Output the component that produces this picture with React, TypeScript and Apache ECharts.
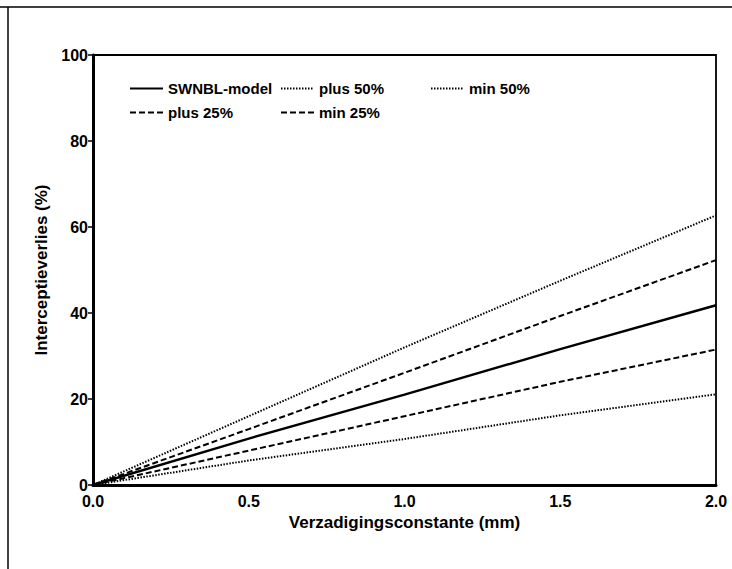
import React, { useEffect, useRef } from "react";
import * as echarts from "echarts";

const xValues = [0, 0.5, 1.0, 1.5, 2.0];
const swnbl = [0, 10.8, 21.0, 31.6, 41.8];
const plus50 = [0, 16.0, 32.0, 47.5, 62.7];
const min50 = [0, 5.7, 10.7, 16.2, 21.1];
const plus25 = [0, 13.0, 26.1, 39.3, 52.3];
const min25 = [0, 8.0, 16.0, 24.0, 31.5];
const xTicks = ["0.0", "0.5", "1.0", "1.5", "2.0"];
const yTicks = [0, 20, 40, 60, 80, 100];

const FONT = "'Liberation Sans', Arial, sans-serif";

function pairs(v: number[]) {
  return xValues.map((x, i) => [x, v[i]]);
}

export default function App() {
  const ref = useRef<HTMLDivElement>(null);
  useEffect(() => {
    if (!ref.current) return;
    const chart = echarts.init(ref.current, null, { renderer: "svg" });
    const mkSeries = (name: string, data: number[], type: any, width: number) => ({
      name,
      type: "line",
      data: pairs(data),
      symbol: "none",
      lineStyle: { color: "#000", width, type },
      itemStyle: { color: "#000" },
    });
    const mkLegend = (name: string, left: number, top: number) => ({
      data: [name],
      left,
      top,
      itemWidth: 33,
      itemHeight: 14,
      itemGap: 8,
      padding: 0,
      itemStyle: { opacity: 0 },
      textStyle: { color: "#000", fontSize: 15, fontWeight: "bold", fontFamily: FONT },
    });
    chart.setOption({
      animation: false,
      backgroundColor: "#fff",
      grid: {
        left: 93,
        top: 55,
        width: 623,
        height: 430,
        show: true,
        borderColor: "#000",
        borderWidth: 1.8,
        backgroundColor: "transparent",
      },
      legend: [
        mkLegend("SWNBL-model", 129, 81),
        mkLegend("plus 50%", 280, 81),
        mkLegend("min 50%", 430, 81),
        mkLegend("plus 25%", 129, 105),
        mkLegend("min 25%", 280, 105),
      ],
      xAxis: {
        type: "value",
        min: 0,
        max: 2,
        interval: 0.5,
        name: "Verzadigingsconstante (mm)",
        nameLocation: "middle",
        nameGap: 25,
        nameTextStyle: { color: "#000", fontSize: 17, fontWeight: "bold", fontFamily: FONT },
        axisLine: { lineStyle: { color: "#000", width: 3 } },
        axisTick: { show: false },
        splitLine: { show: false },
        axisLabel: {
          color: "#000",
          fontSize: 16,
          lineHeight: 16,
          fontWeight: "bold",
          fontFamily: FONT,
          margin: 8,
          formatter: (v: number) => xTicks[Math.round(v / 0.5)] ?? "",
        },
      },
      yAxis: {
        type: "value",
        min: 0,
        max: 100,
        interval: 20,
        name: "Interceptieverlies (%)",
        nameLocation: "middle",
        nameGap: 37,
        nameTextStyle: { color: "#000", fontSize: 17, fontWeight: "bold", fontFamily: FONT },
        axisLine: { show: true, lineStyle: { color: "#000", width: 3 } },
        axisTick: { show: true, length: 5, lineStyle: { color: "#000", width: 1.5 } },
        splitLine: { show: false },
        axisLabel: {
          color: "#000",
          fontSize: 16,
          lineHeight: 13,
          fontWeight: "bold",
          fontFamily: FONT,
          margin: 5,
          formatter: (v: number) => (yTicks.includes(v) ? String(v) : ""),
        },
      },
      graphic: [
        { type: "line", shape: { x1: 0, y1: 7, x2: 732, y2: 7 }, style: { stroke: "#000", lineWidth: 1.5 } },
        { type: "line", shape: { x1: 8, y1: 7, x2: 8, y2: 569 }, style: { stroke: "#000", lineWidth: 1.5 } },
      ],
      series: [
        mkSeries("SWNBL-model", swnbl, "solid", 2.4),
        mkSeries("plus 50%", plus50, [1.5, 1.5], 2),
        mkSeries("min 50%", min50, [1.5, 1.5], 2),
        mkSeries("plus 25%", plus25, [6, 3], 2),
        mkSeries("min 25%", min25, [6, 3], 2),
      ],
    });
    return () => chart.dispose();
  }, []);
  return (
    <div
      ref={ref}
      style={{ position: "fixed", left: 0, top: 0, width: 732, height: 569, background: "#fff" }}
    />
  );
}
